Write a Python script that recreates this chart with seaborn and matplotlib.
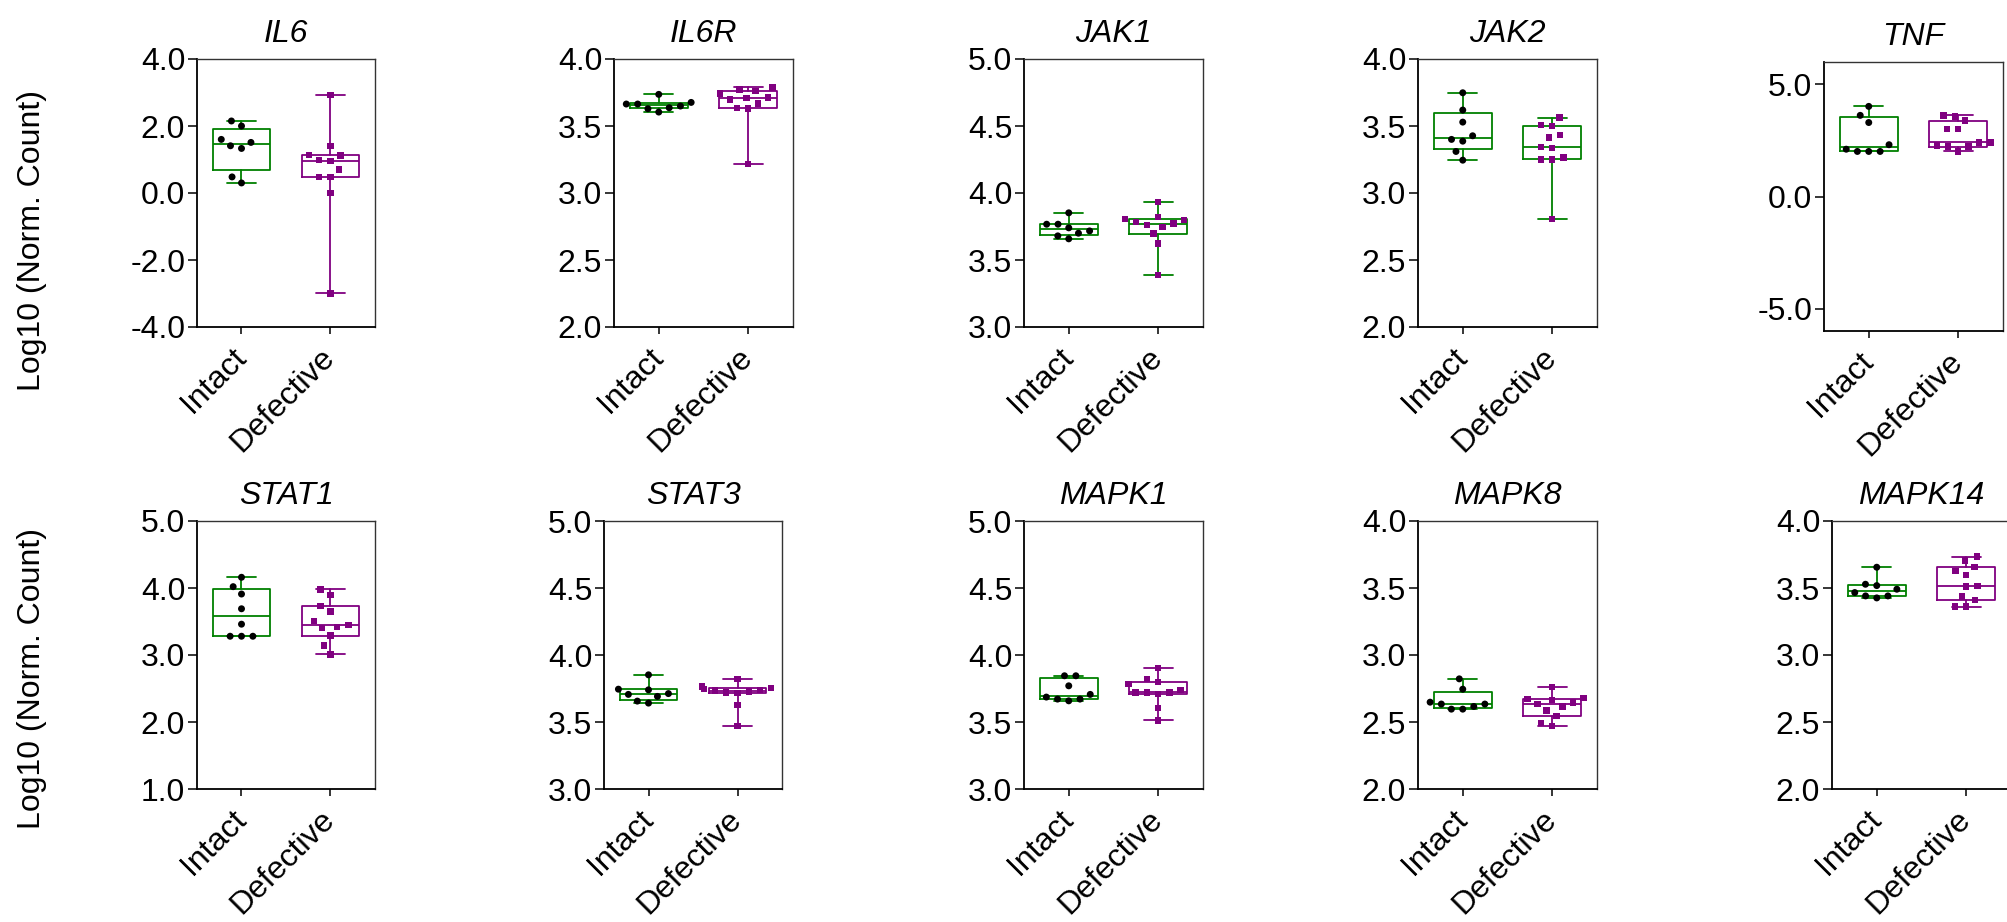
import numpy as np
import pandas as pd
import matplotlib
matplotlib.use("Agg")
import matplotlib.pyplot as plt
import seaborn as sns

groups = ["Intact", "Defective"]
genes = ["IL6", "IL6R", "JAK1", "JAK2", "TNF",
         "STAT1", "STAT3", "MAPK1", "MAPK8", "MAPK14"]

# log10 normalised counts
il6_intact = [2.15, 2.00, 1.60, 1.51, 1.41, 1.33, 0.48, 0.30]
il6_defective = [2.92, 1.41, 1.14, 1.12, 0.98, 0.96, 0.70, 0.48, 0.48, 0.00, -3.00]
il6r_intact = [3.736, 3.676, 3.664, 3.664, 3.649, 3.636, 3.629, 3.604]
il6r_defective = [3.788, 3.773, 3.763, 3.743, 3.714, 3.711, 3.699, 3.669, 3.636, 3.631, 3.215]
jak1_intact = [3.852, 3.767, 3.767, 3.740, 3.717, 3.700, 3.680, 3.658]
jak1_defective = [3.934, 3.822, 3.804, 3.797, 3.785, 3.772, 3.762, 3.747, 3.697, 3.623, 3.386]
jak2_intact = [3.748, 3.619, 3.529, 3.427, 3.400, 3.387, 3.310, 3.245]
jak2_defective = [3.562, 3.507, 3.499, 3.435, 3.415, 3.345, 3.337, 3.265, 3.250, 3.250, 2.804]
tnf_intact = [4.02, 3.62, 3.30, 2.31, 2.11, 2.01, 2.01, 2.01]
tnf_defective = [3.62, 3.57, 3.39, 3.01, 3.01, 2.41, 2.41, 2.28, 2.23, 2.23, 2.01]
stat1_intact = [4.16, 4.02, 3.91, 3.69, 3.46, 3.28, 3.28, 3.28]
stat1_defective = [3.98, 3.90, 3.73, 3.65, 3.51, 3.45, 3.42, 3.40, 3.29, 3.14, 3.01]
stat3_intact = [3.852, 3.745, 3.740, 3.712, 3.706, 3.691, 3.656, 3.641]
stat3_defective = [3.820, 3.765, 3.753, 3.748, 3.740, 3.735, 3.728, 3.720, 3.716, 3.629, 3.472]
mapk1_intact = [3.845, 3.845, 3.770, 3.706, 3.686, 3.671, 3.671, 3.658]
mapk1_defective = [3.902, 3.820, 3.798, 3.783, 3.741, 3.721, 3.721, 3.721, 3.709, 3.604, 3.512]
mapk8_intact = [2.822, 2.745, 2.648, 2.634, 2.634, 2.616, 2.596, 2.596]
mapk8_defective = [2.763, 2.678, 2.671, 2.666, 2.646, 2.636, 2.616, 2.586, 2.547, 2.492, 2.472]
mapk14_intact = [3.655, 3.528, 3.518, 3.491, 3.466, 3.441, 3.441, 3.426]
mapk14_defective = [3.734, 3.704, 3.655, 3.627, 3.598, 3.516, 3.511, 3.436, 3.411, 3.361, 3.361]

values = {
    "IL6": (il6_intact, il6_defective),
    "IL6R": (il6r_intact, il6r_defective),
    "JAK1": (jak1_intact, jak1_defective),
    "JAK2": (jak2_intact, jak2_defective),
    "TNF": (tnf_intact, tnf_defective),
    "STAT1": (stat1_intact, stat1_defective),
    "STAT3": (stat3_intact, stat3_defective),
    "MAPK1": (mapk1_intact, mapk1_defective),
    "MAPK8": (mapk8_intact, mapk8_defective),
    "MAPK14": (mapk14_intact, mapk14_defective),
}

y_ranges = {"IL6": (-4, 4), "IL6R": (2, 4), "JAK1": (3, 5), "JAK2": (2, 4),
            "TNF": (-6, 6), "STAT1": (1, 5), "STAT3": (3, 5), "MAPK1": (3, 5),
            "MAPK8": (2, 4), "MAPK14": (2, 4)}
y_ticks = {"IL6": [-4, -2, 0, 2, 4], "TNF": [-5, 0, 5], "STAT1": [1, 2, 3, 4, 5]}

GREEN = "#008000"
PURPLE = "#800080"
all_green = {"JAK1", "JAK2"}  # the source draws both boxes green here

# axes boxes in pixels: left, top, right, bottom
panel_px = {
    "IL6": (197, 59, 375, 327), "IL6R": (614, 59, 793, 327),
    "JAK1": (1024, 59, 1203, 327), "JAK2": (1418, 59, 1597, 327),
    "TNF": (1824, 62, 2003, 331),
    "STAT1": (197, 521, 375, 789), "STAT3": (604, 521, 782, 789),
    "MAPK1": (1024, 521, 1203, 789), "MAPK8": (1418, 521, 1597, 789),
    "MAPK14": (1832, 521, 2011, 789),
}

sns.set_style("white")
plt.rcParams["font.family"] = ["Liberation Sans", "DejaVu Sans"]
plt.rcParams["axes.unicode_minus"] = False
plt.rcParams["text.color"] = "black"
plt.rcParams["xtick.color"] = "black"
plt.rcParams["ytick.color"] = "black"
FS = 23

W, H = 2008, 922
fig = plt.figure(figsize=(W / 100, H / 100), dpi=100)


def box_stats(vals):
    v = np.asarray(vals, dtype=float)
    q1, med, q3 = np.percentile(v, [25, 50, 75], method="weibull")
    return {"med": med, "q1": q1, "q3": q3, "whislo": v.min(),
            "whishi": v.max(), "fliers": []}


for gene in genes:
    l, t, r, b = panel_px[gene]
    ax = fig.add_axes([l / W, 1 - b / H, (r - l) / W, (b - t) / H])
    intact, defective = values[gene]
    colors = [GREEN, GREEN] if gene in all_green else [GREEN, PURPLE]

    for i, vals in enumerate([intact, defective]):
        lp = dict(color=colors[i], linewidth=1.3)
        ax.bxp([box_stats(vals)], positions=[i], widths=0.65, capwidths=0.32,
               showfliers=False, manage_ticks=False,
               boxprops=lp, whiskerprops=lp, capprops=lp, medianprops=lp)

    df = pd.DataFrame({"group": ["Intact"] * len(intact) + ["Defective"] * len(defective),
                       "value": intact + defective})
    sns.swarmplot(data=df[df.group == "Intact"], x="group", y="value", order=groups,
                  ax=ax, color="black", marker="o", size=5.0,
                  linewidth=2.8, edgecolor="none", zorder=3)
    sns.swarmplot(data=df[df.group == "Defective"], x="group", y="value", order=groups,
                  ax=ax, color=PURPLE, marker="s", size=4.6,
                  linewidth=3.2, edgecolor="none", zorder=3)

    lo, hi = y_ranges[gene]
    ticks = y_ticks.get(gene, list(np.arange(lo, hi + 0.01, 0.5)))
    ax.set_ylim(lo, hi)
    ax.set_yticks(ticks)
    ax.set_yticklabels([f"{tk:.1f}" for tk in ticks], fontsize=FS)
    ax.set_xlim(-0.5, 1.5)
    ax.set_xticks([0, 1])
    ax.set_xticklabels(groups, fontsize=FS, rotation=45, ha="right",
                       va="center", rotation_mode="anchor")
    ax.set_xlabel("")
    ax.set_ylabel("")
    ax.set_title(gene, fontsize=FS, style="italic", pad=12)
    ax.tick_params(axis="y", direction="out", length=6.5, width=1.1, pad=2, left=True)
    ax.tick_params(axis="x", direction="out", length=5, width=1.1, pad=14, bottom=True)
    for side, sp in ax.spines.items():
        sp.set_visible(True)
        sp.set_color("black" if side in ("left", "bottom") else "#333333")
        sp.set_linewidth(1.3 if side in ("left", "bottom") else 1.0)

for yc in (240, 678):
    fig.text(32 / W, 1 - yc / H, "Log10 (Norm. Count)", rotation=90,
             ha="center", va="center", fontsize=FS)

fig.savefig("out.png", dpi=100)
